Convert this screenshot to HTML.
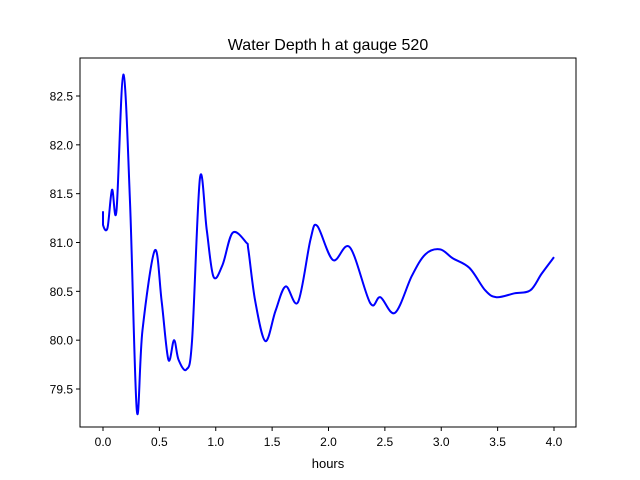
<!DOCTYPE html>
<html><head><meta charset="utf-8"><style>body{margin:0;background:#fff}svg{display:block;font-family:"Liberation Sans","DejaVu Sans",sans-serif}</style></head>
<body>
<svg id="chart" width="640" height="480" viewBox="0 0 640 480" xmlns="http://www.w3.org/2000/svg">
<rect width="640" height="480" fill="#fff"/>
<text x="328" y="50" text-anchor="middle" font-size="16">Water Depth h at gauge 520</text>
<g id="plot"></g>
<rect x="80" y="58" width="496" height="369" fill="none" stroke="#000" stroke-width="1"/>
<text x="328" y="468" text-anchor="middle" font-size="13">hours</text>
</svg>
<script>
const hours=[0,0,0.04,0.08,0.12,0.18,0.24,0.30,0.35,0.46,0.52,0.58,0.63,0.67,0.74,0.79,0.86,0.92,0.98,1.06,1.15,1.27,1.29,1.35,1.44,1.53,1.62,1.73,1.84,1.90,2.04,2.19,2.37,2.46,2.59,2.74,2.86,2.99,3.10,3.25,3.39,3.49,3.65,3.79,3.89,4.0];
const depth=[81.32,81.18,81.15,81.54,81.33,82.72,81.4,79.28,80.1,80.92,80.4,79.8,80.0,79.8,79.7,80.0,81.66,81.13,80.65,80.77,81.1,81.0,80.92,80.4,79.99,80.3,80.55,80.39,81.03,81.17,80.82,80.95,80.38,80.44,80.28,80.66,80.88,80.93,80.84,80.74,80.51,80.44,80.48,80.51,80.68,80.85];
const xTicks=[0,0.5,1,1.5,2,2.5,3,3.5,4];
const xTickLabels=["0.0","0.5","1.0","1.5","2.0","2.5","3.0","3.5","4.0"];
const yTicks=[79.5,80,80.5,81,81.5,82,82.5];
const yTickLabels=["79.5","80.0","80.5","81.0","81.5","82.0","82.5"];
const NS="http://www.w3.org/2000/svg";
const xs=h=>103+h*112.75;
const ys=v=>96+(82.5-v)*97.67;
const g=document.getElementById('plot');
function mk(t,a){const e=document.createElementNS(NS,t);for(const k in a)e.setAttribute(k,a[k]);g.appendChild(e);return e;}
xTicks.forEach((t,i)=>{
 const l=mk('line',{x1:xs(t),x2:xs(t),y1:427,y2:431,stroke:'#000'});
 
 
 const tx=mk('text',{x:xs(t),y:446,'text-anchor':'middle','font-size':12});
 tx.textContent=xTickLabels[i];
 
 
});
yTicks.forEach((t,i)=>{
 const l=mk('line',{x1:76,x2:80,y1:ys(t),y2:ys(t),stroke:'#000'});
 
 
 const tx=mk('text',{x:73,y:ys(t)+4.5,'text-anchor':'end','font-size':12});
 tx.textContent=yTickLabels[i];
 
 
});
const P=hours.map((h,i)=>[xs(h),ys(depth[i])]);
let d='M'+P[0][0]+','+P[0][1];
for(let i=0;i<P.length-1;i++){
 const p0=P[Math.max(0,i-1)],p1=P[i],p2=P[i+1],p3=P[Math.min(P.length-1,i+2)];
 const c1=[p1[0]+(p2[0]-p0[0])/6,p1[1]+(p2[1]-p0[1])/6];
 const c2=[p2[0]-(p3[0]-p1[0])/6,p2[1]-(p3[1]-p1[1])/6];
 if(i===0){d+=' L'+p2[0]+','+p2[1];continue;}
 d+=` C${c1[0]},${c1[1]} ${c2[0]},${c2[1]} ${p2[0]},${p2[1]}`;
}
const line=mk('path',{d:d,fill:'none',stroke:'#0000ff','stroke-width':2,'stroke-linejoin':'round'});


</script>
</body></html>
